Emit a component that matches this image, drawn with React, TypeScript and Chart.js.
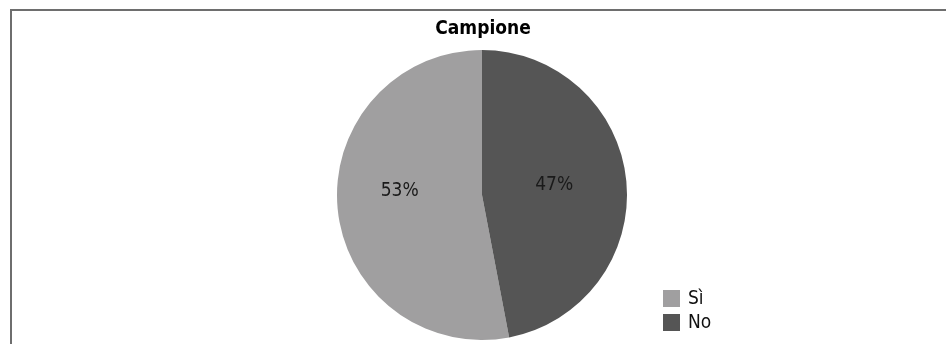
import React, { useEffect, useRef } from "react";
import { Chart, registerables } from "chart.js";

Chart.register(...registerables);

const chartTitle = "Campione";
const categories = ["Sì", "No"];
const values = [53, 47];
const colors = ["#a09fa0", "#555555"];

const FONT = "'DejaVu Sans Condensed', 'Liberation Sans Narrow', 'DejaVu Sans', sans-serif";

const decorPlugin = {
  id: "decor",
  beforeDraw(chart: any) {
    const ctx = chart.ctx;
    ctx.save();
    ctx.fillStyle = "#ffffff";
    ctx.fillRect(0, 0, chart.width, chart.height);
    // frame
    ctx.strokeStyle = "#6e6e6e";
    ctx.lineWidth = 2;
    ctx.beginPath();
    ctx.moveTo(chart.width + 2, 10);
    ctx.lineTo(11, 10);
    ctx.lineTo(11, chart.height + 2);
    ctx.stroke();
    // title
    ctx.fillStyle = "#000";
    ctx.font = "bold 19px " + FONT;
    ctx.textAlign = "center";
    ctx.textBaseline = "alphabetic";
    ctx.fillText(chartTitle, 483, 34);
    ctx.restore();
  },
  afterDraw(chart: any) {
    const ctx = chart.ctx;
    const meta = chart.getDatasetMeta(0);
    const total = values.reduce((a, b) => a + b, 0);
    const fracs = [0.57, 0.5];
    const shifts = [-12, -3];
    ctx.save();
    ctx.font = "19px " + FONT;
    ctx.fillStyle = "#1a1a1a";
    ctx.textAlign = "center";
    ctx.textBaseline = "middle";
    meta.data.forEach((arc: any, i: number) => {
      const p = arc.getProps(["x", "y", "startAngle", "endAngle", "outerRadius"], true);
      const mid = (p.startAngle + p.endAngle) / 2;
      const r = p.outerRadius * fracs[i];
      const x = p.x + Math.cos(mid) * r;
      const y = p.y + Math.sin(mid) * r + shifts[i];
      ctx.fillText(Math.round((values[i] / total) * 100) + "%", x, y);
    });
    // legend
    ctx.textAlign = "left";
    ctx.font = "19px " + FONT;
    categories.forEach((c, i) => {
      const y0 = 290 + i * 24;
      ctx.fillStyle = colors[i];
      ctx.fillRect(663, y0, 17, 17);
      ctx.fillStyle = "#111";
      ctx.fillText(c, 688, y0 + 9);
    });
    ctx.restore();
  },
};

export default function App() {
  const ref = useRef<HTMLCanvasElement>(null);
  useEffect(() => {
    if (!ref.current) return;
    const total = values.reduce((a, b) => a + b, 0);
    const chart = new Chart(ref.current, {
      type: "pie",
      data: {
        labels: categories,
        datasets: [
          {
            data: values,
            backgroundColor: colors,
            borderWidth: 0,
          },
        ],
      },
      options: {
        animation: false,
        responsive: false,
        maintainAspectRatio: false,
        rotation: (values[1] / total) * 360,
        layout: { padding: { top: 50, bottom: 4, left: 337, right: 319 } },
        plugins: {
          legend: { display: false },
          title: { display: false },
          tooltip: { enabled: false },
        },
      },
      plugins: [decorPlugin],
    });
    return () => chart.destroy();
  }, []);
  return (
    <div style={{ position: "fixed", left: 0, top: 0, width: 946, height: 344 }}>
      <canvas ref={ref} width={946} height={344} style={{ display: "block" }} />
    </div>
  );
}
